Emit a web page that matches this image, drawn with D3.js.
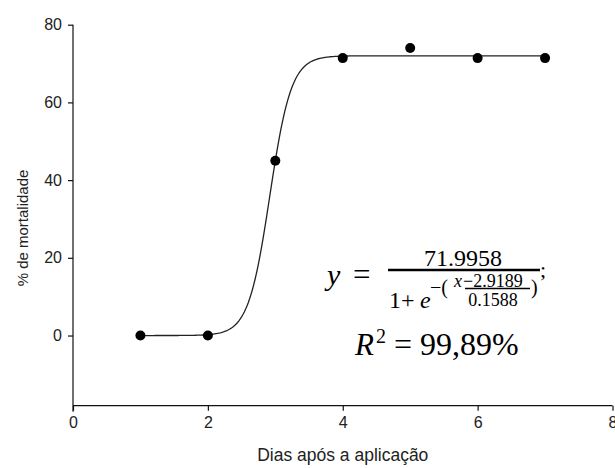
<!DOCTYPE html>
<html>
<head>
<meta charset="utf-8">
<script src="https://cdn.jsdelivr.net/npm/d3@7"></script>
<style>
  body { margin: 0; background: #fff; }
  .axis text { font-family: "Liberation Sans", Arial, sans-serif; font-size: 16px; fill: #222; }
  .axis path, .axis line { stroke: #111; stroke-width: 1.2; }
  .eq { font-family: "Liberation Serif", "Times New Roman", serif; fill: #000; }
</style>
</head>
<body>
<div id="chart"></div>
<script>
// observed mortality per day
const days = [1, 2, 3, 4, 5, 6, 7];
const mortality = [0, 0, 45, 71.4, 74, 71.4, 71.4];
const xTicks = [0, 2, 4, 6, 8];
const yTicks = [0, 20, 40, 60, 80];
// fitted sigmoid parameters (from the equation on the chart)
const fitA = 71.9958, fitX0 = 2.9189, fitB = 0.1588;

const W = 615, H = 468;
const margin = { top: 24.7, right: 2.5, bottom: 62.3, left: 73 };
const width = W - margin.left - margin.right,
  height = H - margin.top - margin.bottom;

const svg = d3
  .select("#chart")
  .append("svg")
  .attr("width", W)
  .attr("height", H);

const g = svg.append("g").attr("transform", `translate(${margin.left},${margin.top})`);

const x = d3.scaleLinear().domain([0, 8]).range([0, width]);
const y = d3.scaleLinear().domain([-18.06, 80]).range([height, 0]);

// axes
g.append("g")
  .attr("class", "axis")
  .attr("transform", `translate(0,${height})`)
  .call(d3.axisBottom(x).tickValues(xTicks).tickSize(5).tickPadding(6))
  .call((s) => s.select(".domain").attr("d", `M0,0H${width}`));

g.append("g")
  .attr("class", "axis")
  .call(d3.axisLeft(y).tickValues(yTicks).tickSize(5).tickPadding(6))
  .call((s) => s.select(".domain").attr("d", `M0,${y(80)}V${height + 6}`));

// fitted curve
const curveX = d3.range(1, 7.001, 0.02);
const line = d3
  .line()
  .x((d) => x(d))
  .y((d) => y(fitA / (1 + Math.exp(-(d - fitX0) / fitB))));

g.append("path")
  .datum(curveX)
  .attr("fill", "none")
  .attr("stroke", "#222")
  .attr("stroke-width", 1.3)
  .attr("d", line);

// points
g.selectAll("circle")
  .data(days)
  .enter()
  .append("circle")
  .attr("cx", (d) => x(d))
  .attr("cy", (d, i) => y(mortality[i]))
  .attr("r", 5)
  .attr("fill", "#000");

// axis titles
svg.append("text")
  .attr("x", margin.left + width / 2)
  .attr("y", 461)
  .attr("text-anchor", "middle")
  .attr("font-family", "Liberation Sans, Arial, sans-serif")
  .attr("font-size", 17.5)
  .attr("fill", "#222")
  .text("Dias após a aplicação");

svg.append("text")
  .attr("transform", "translate(28,228) rotate(-90)")
  .attr("text-anchor", "middle")
  .attr("font-family", "Liberation Sans, Arial, sans-serif")
  .attr("font-size", 15)
  .attr("fill", "#222")
  .text("% de mortalidade");

// equation annotation
const eq = svg.append("g").attr("class", "eq");
const t = (px, py, size, str, italic, anchor) =>
  eq.append("text")
    .attr("x", px)
    .attr("y", py)
    .attr("font-size", size)
    .attr("font-style", italic ? "italic" : "normal")
    .attr("text-anchor", anchor || "start")
    .text(str);

t(327, 285, 30, "y", true);
t(353, 285, 31, "=");
eq.append("line").attr("x1", 388).attr("x2", 540).attr("y1", 270).attr("y2", 270)
  .attr("stroke", "#000").attr("stroke-width", 2.4);
t(463, 266, 24, "71.9958", false, "middle");
t(389, 308, 24, "1+");
t(420, 308, 24, "e", true);
t(430, 294, 20, "−(");
t(454, 287, 18, "x", true);
t(463, 287, 18, "−2.9189");
eq.append("line").attr("x1", 465).attr("x2", 530).attr("y1", 288.5).attr("y2", 288.5)
  .attr("stroke", "#000").attr("stroke-width", 1.3);
t(493, 306, 18, "0.1588", false, "middle");
t(531, 294, 20, ")");
t(540, 277, 22, ";");
t(355, 355, 31, "R", true);
t(376, 343, 20, "2");
t(394, 355, 32, "= 99,89%");
</script>
</body>
</html>
